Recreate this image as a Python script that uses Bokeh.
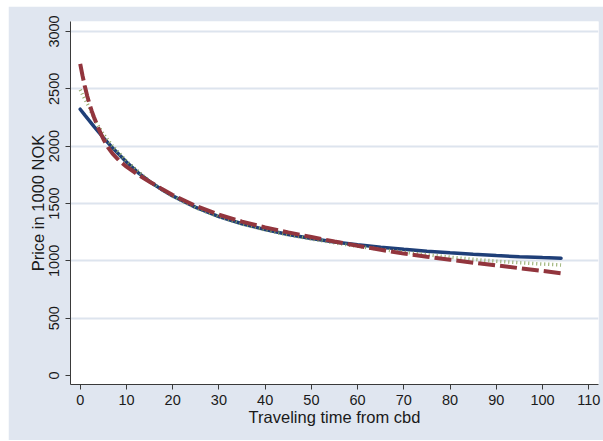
from bokeh.plotting import figure
from bokeh.models import Range1d, FixedTicker, Spacer
from bokeh.layouts import column, row
from bokeh.embed import file_html
from bokeh.resources import INLINE

# --- data ---
time_navy = [0, 1, 2, 3, 4, 5, 7, 10, 12.5, 15, 17.5, 20, 25, 30, 35, 40, 45, 50, 55, 60, 65, 70, 75, 80, 85, 90, 95, 100, 104]
price_navy = [2322, 2270, 2220, 2170, 2122, 2075, 1985, 1862, 1770, 1692, 1625, 1566, 1466, 1386, 1323, 1272, 1230, 1195, 1165, 1140, 1118, 1100, 1084, 1070, 1057, 1046, 1036, 1028, 1023]

time_green = [0, 1, 2, 3, 4, 5, 7, 10, 12.5, 15, 17.5, 20, 25, 30, 35, 40, 45, 50, 55, 60, 65, 70, 75, 80, 85, 90, 95, 100, 104]
price_green = [2491, 2410, 2335, 2240, 2170, 2105, 2000, 1870, 1780, 1695, 1625, 1563, 1462, 1385, 1322, 1270, 1226, 1190, 1157, 1127, 1100, 1075, 1053, 1032, 1013, 997, 983, 972, 964]

time_maroon = [0, 0.5, 1, 1.5, 2, 2.5, 3, 4, 5, 6, 7, 8.5, 10, 12.5, 15, 17.5, 20, 25, 30, 35, 40, 45, 50, 55, 60, 65, 70, 75, 80, 85, 90, 95, 100, 104]
price_maroon = [2718, 2615, 2522, 2440, 2368, 2305, 2250, 2150, 2062, 1990, 1935, 1870, 1822, 1752, 1690, 1630, 1574, 1478, 1402, 1342, 1292, 1248, 1208, 1168, 1131, 1096, 1063, 1036, 1010, 984, 960, 936, 912, 892]

x_ticks = [0, 10, 20, 30, 40, 50, 60, 70, 80, 90, 100, 110]
y_ticks = [0, 500, 1000, 1500, 2000, 2500, 3000]
grid_ticks = [500, 1000, 1500, 2000, 2500, 3000]

BG = "#E0E6F0"
FONT = "Liberation Sans"

p = figure(width=595, height=434, output_backend="svg", toolbar_location=None,
           x_range=Range1d(-2.1, 112.1), y_range=Range1d(-78.5, 3087),
           min_border_left=62, min_border_right=5, min_border_top=15, min_border_bottom=56)
p.background_fill_color = "white"
p.border_fill_color = BG
p.outline_line_color = None

p.xgrid.visible = False
p.ygrid.ticker = FixedTicker(ticks=grid_ticks)
p.ygrid.grid_line_color = "#DDE4EE"
p.ygrid.grid_line_width = 2

p.xaxis.ticker = FixedTicker(ticks=x_ticks)
p.yaxis.ticker = FixedTicker(ticks=y_ticks)
for ax in (p.xaxis[0], p.yaxis[0]):
    ax.axis_line_color = "#3a3a3a"
    ax.major_tick_line_color = "#3a3a3a"
    ax.major_tick_out = 5
    ax.major_tick_in = 0
    ax.minor_tick_line_color = None
    ax.major_label_text_font = FONT
    ax.major_label_text_font_size = "14.5px"
    ax.major_label_text_color = "#1a1a1a"
    ax.axis_label_text_font = FONT
    ax.axis_label_text_font_size = "16.5px"
    ax.axis_label_text_font_style = "normal"
    ax.axis_label_text_color = "#1a1a1a"

p.xaxis.axis_label = "Traveling time from cbd"
p.yaxis.axis_label = "Price in 1000 NOK"
p.yaxis.major_label_orientation = "vertical"
p.xaxis.major_label_standoff = 5
p.xaxis.axis_label_standoff = 0
p.yaxis.major_label_standoff = 6
p.yaxis.axis_label_standoff = 0

p.line(time_navy, price_navy, line_color="#1F3F78", line_width=3.5, line_cap="round")
p.line(time_green, price_green, line_color="#8CA662", line_width=3.5, line_dash="1 3")
p.line(time_maroon, price_maroon, line_color="#92353D", line_width=4, line_dash="17 5")

layout = column(Spacer(height=6), row(Spacer(width=8), p, spacing=0), spacing=0)

open("out.html", "w").write(file_html(layout, INLINE))
